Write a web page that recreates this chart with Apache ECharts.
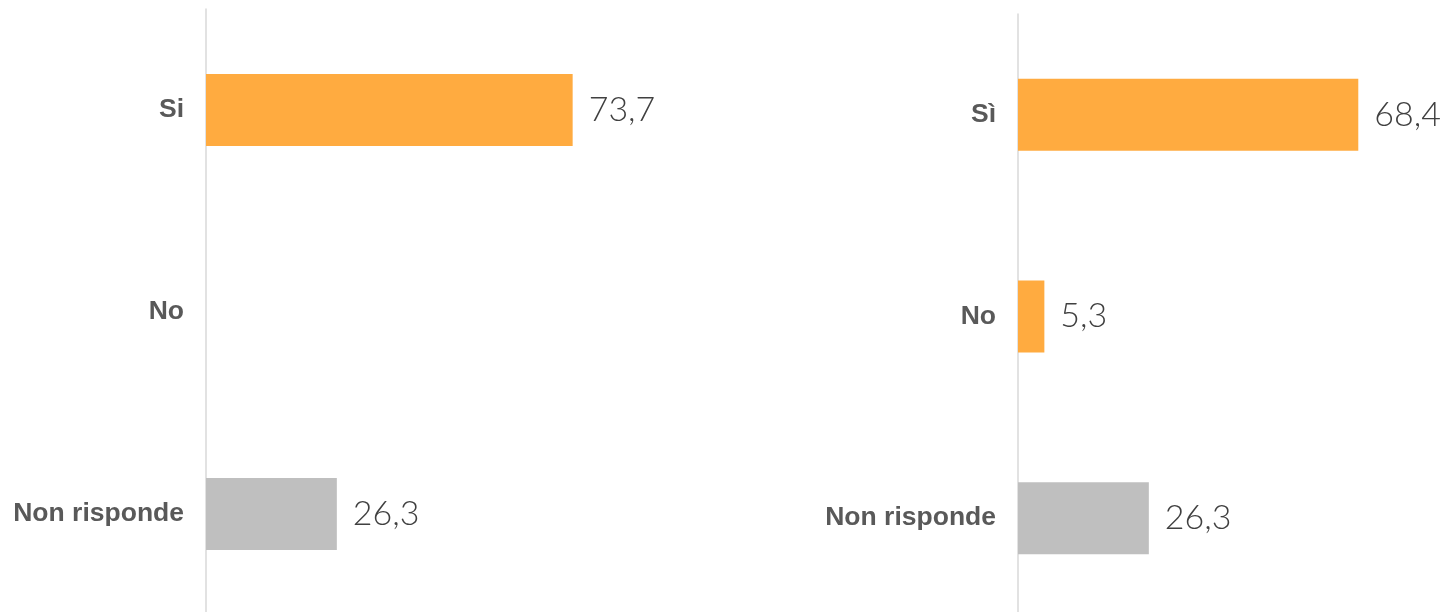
<!DOCTYPE html>
<html>
<head>
<meta charset="utf-8">
<script src="https://cdn.jsdelivr.net/npm/echarts@6/dist/echarts.min.js"></script>
<style>
  html, body { margin: 0; padding: 0; background: #ffffff; }
  #frame { width: 1443px; height: 612px; overflow: hidden; position: relative; }
  #chart { width: 1443px; height: 630px; }
</style>
</head>
<body>
<div id="frame"><div id="chart"></div></div>
<script>
// Two survey panels, same answer set
const leftCategories = ['Si', 'No', 'Non risponde'];
const rightCategories = ['Sì', 'No', 'Non risponde'];
const leftValues = [73.7, null, 26.3];
const rightValues = [68.4, 5.3, 26.3];
const answerColors = ['#FFAB40', '#FFAB40', '#BFBFBF'];

const fmt = v => String(v).replace('.', ',');

function toBarData(values) {
  return values.map((v, i) => ({ value: v, itemStyle: { color: answerColors[i] } }));
}

const catAxis = (gridIndex, cats) => ({
  type: 'category',
  gridIndex,
  data: cats,
  inverse: true,
  axisTick: { show: false },
  axisLine: { show: true, lineStyle: { color: '#D9D9D9', width: 1.5 } },
  axisLabel: {
    margin: 22,
    color: '#595959',
    fontFamily: 'Liberation Sans, Arial, sans-serif',
    fontWeight: 'bold',
    fontSize: 26.5
  }
});

const valAxis = gridIndex => ({
  type: 'value',
  gridIndex,
  min: 0,
  max: 80,
  show: false
});

const barSeries = (idx, values) => ({
  type: 'bar',
  xAxisIndex: idx,
  yAxisIndex: idx,
  data: toBarData(values),
  barWidth: 72,
  silent: true,
  label: {
    show: true,
    position: 'right',
    distance: 16,
    color: '#404040',
    fontFamily: 'Lato, sans-serif',
    fontWeight: 300,
    fontSize: 34,
    formatter: p => (p.value == null ? '' : fmt(p.value))
  }
});

const chart = echarts.init(document.getElementById('chart'), null, { renderer: 'canvas' });
chart.setOption({
  backgroundColor: '#ffffff',
  animation: false,
  grid: [
    { left: 206, top: 9, right: 839, bottom: 15 },
    { left: 1018, top: 14, right: 27, bottom: 11 }
  ],
  xAxis: [valAxis(0), valAxis(1)],
  yAxis: [catAxis(0, leftCategories), catAxis(1, rightCategories)],
  series: [barSeries(0, leftValues), barSeries(1, rightValues)]
});
</script>
</body>
</html>
